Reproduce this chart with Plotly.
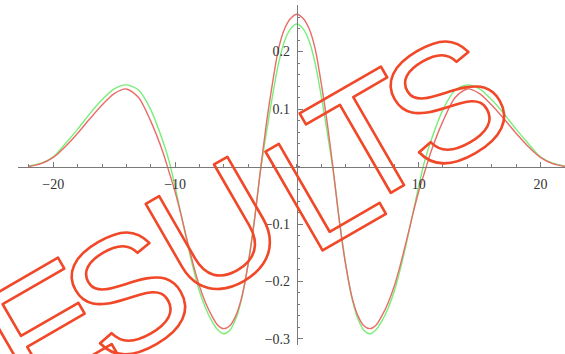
import plotly.graph_objects as go

# ---- data ----
x_vals = [-22, -21, -20, -19, -18, -17, -16, -15, -14, -13, -12, -11,
          -10.5, -10, -9.5, -9, -8.5, -8, -7.5, -7, -6.5, -6, -5.5, -5,
          -4.5, -4, -3.5, -3, -2.5, -2, -1.5, -1, -0.5, 0,
          0.5, 1, 1.5, 2, 2.5, 3, 3.5, 4, 4.5, 5, 5.5, 6, 6.5, 7,
          7.5, 8, 8.5, 9, 9.5, 10, 10.5,
          11, 12, 13, 14, 15, 16, 17, 18, 19, 20, 21, 22]

green_vals = [0.001, 0.006, 0.017, 0.040, 0.065, 0.092, 0.116, 0.135, 0.142, 0.133, 0.099, 0.044,
              0.010, -0.035, -0.084, -0.133, -0.178, -0.217, -0.246, -0.268, -0.284, -0.291, -0.285, -0.264,
              -0.227, -0.168, -0.094, -0.010, 0.059, 0.123, 0.180, 0.219, 0.240, 0.248,
              0.240, 0.219, 0.180, 0.123, 0.059, -0.010, -0.094, -0.168, -0.227, -0.264, -0.285, -0.291, -0.284, -0.268,
              -0.246, -0.217, -0.178, -0.133, -0.084, -0.035, 0.010,
              0.044, 0.099, 0.133, 0.142, 0.135, 0.116, 0.092, 0.065, 0.040, 0.017, 0.006, 0.001]

red_vals = [0.000, 0.005, 0.016, 0.035, 0.058, 0.083, 0.107, 0.127, 0.135, 0.120, 0.079, 0.025,
            -0.009, -0.044, -0.085, -0.129, -0.171, -0.208, -0.237, -0.259, -0.276, -0.282, -0.277, -0.259,
            -0.225, -0.170, -0.097, -0.008, 0.075, 0.145, 0.205, 0.240, 0.258, 0.265,
            0.258, 0.240, 0.205, 0.145, 0.075, -0.008, -0.097, -0.170, -0.225, -0.259, -0.277, -0.282, -0.276, -0.259,
            -0.237, -0.208, -0.171, -0.129, -0.085, -0.044, -0.009,
            0.025, 0.079, 0.120, 0.135, 0.127, 0.107, 0.083, 0.058, 0.035, 0.016, 0.005, 0.000]

x_tick_vals = [-20, -10, 10, 20]
x_tick_labels = ["\u221220", "\u221210", "10", "20"]
y_tick_vals = [-0.3, -0.2, -0.1, 0.1, 0.2]
y_tick_labels = ["\u22120.3", "\u22120.2", "\u22120.1", "0.1", "0.2"]

watermark_letters = ["E", "S", "U", "L", "T", "S"]

# ---- layout / style ----
W, H = 565, 354
X_RANGE = [-22.9, 22.02]
Y_RANGE = [-0.3106, 0.2811]
XD = [18 / W, 1.0]
YD = [7 / H, 349 / H]

# position of each axis at the other's zero
x_axis_pos = YD[0] + (0 - Y_RANGE[0]) / (Y_RANGE[1] - Y_RANGE[0]) * (YD[1] - YD[0])
y_axis_pos = XD[0] + (0 - X_RANGE[0]) / (X_RANGE[1] - X_RANGE[0]) * (XD[1] - XD[0])

AX = "#7a7a7a"
LBL = "#333333"
WM = "rgb(240,72,40)"
tick_font = dict(family="Liberation Serif", size=14, color=LBL)

fig = go.Figure()
fig.add_trace(go.Scatter(x=x_vals, y=green_vals, mode="lines",
                         line=dict(color="rgb(120,238,120)", width=1.4, shape="spline", smoothing=0.8),
                         hoverinfo="skip"))
fig.add_trace(go.Scatter(x=x_vals, y=red_vals, mode="lines",
                         line=dict(color="rgb(232,108,104)", width=1.4, shape="spline", smoothing=0.8),
                         hoverinfo="skip"))

fig.update_layout(
    width=W, height=H,
    margin=dict(l=0, r=0, t=0, b=0),
    paper_bgcolor="white", plot_bgcolor="white",
    showlegend=False,
    xaxis=dict(range=X_RANGE, domain=XD, anchor="free", position=x_axis_pos,
               showline=True, linecolor=AX, linewidth=1,
               showgrid=False, zeroline=False,
               tickmode="array", tickvals=x_tick_vals, ticktext=x_tick_labels,
               ticks="inside", ticklen=5, tickwidth=1, tickcolor=AX,
               ticklabelstandoff=5,
               minor=dict(tickmode="linear", tick0=0, dtick=2, ticks="inside",
                          ticklen=2.5, tickwidth=1, tickcolor=AX, showgrid=False),
               tickfont=tick_font, fixedrange=True),
    yaxis=dict(range=Y_RANGE, domain=YD, anchor="free", position=y_axis_pos, side="left",
               showline=True, linecolor=AX, linewidth=1,
               showgrid=False, zeroline=False,
               tickmode="array", tickvals=y_tick_vals, ticktext=y_tick_labels,
               ticks="inside", ticklen=5, tickwidth=1, tickcolor=AX,
               ticklabelstandoff=4,
               minor=dict(tickmode="linear", tick0=0, dtick=0.02, ticks="inside",
                          ticklen=2.5, tickwidth=1, tickcolor=AX, showgrid=False),
               tickfont=tick_font, fixedrange=True),
)

# watermark letter centres in pixels
wm_centres = [(47, 331), (126, 295), (215, 231), (322, 186), (368, 140), (445, 103)]
for ch, (cx, cy) in zip(watermark_letters, wm_centres):
    fig.add_annotation(
        text=f'<span style="fill:none;stroke:{WM};stroke-width:2.6px;stroke-linejoin:round">{ch}</span>',
        xref="paper", yref="paper", x=cx / W, y=1 - cy / H,
        xanchor="center", yanchor="middle", showarrow=False,
        textangle=-30,
        font=dict(family="Liberation Sans", size=166, color="rgba(0,0,0,0)"),
    )

fig.write_html("out.html", config={"displayModeBar": False, "staticPlot": True},
               post_script="document.body.style.margin='0px';document.body.style.overflow='hidden';")
